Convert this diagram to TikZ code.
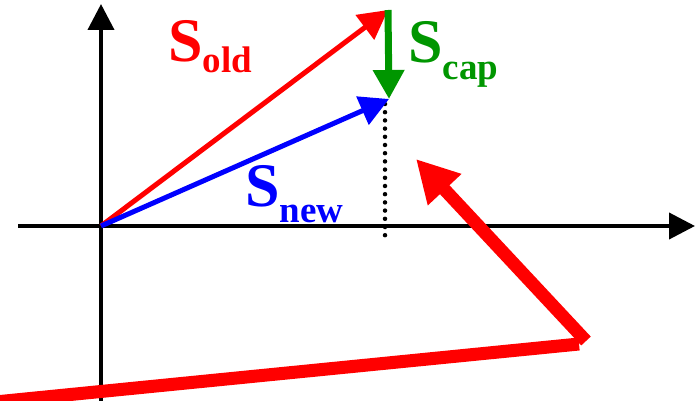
\documentclass[tikz,border=0pt]{standalone}
\usepackage{fontspec}
\setmainfont{Liberation Serif}
\usetikzlibrary{arrows.meta}
\definecolor{myred}{RGB}{255,0,0}
\definecolor{myblue}{RGB}{0,0,255}
\definecolor{mygreen}{RGB}{0,150,0}
\newcommand{\bigS}{{\fontsize{62}{62}\selectfont\bfseries S}}
\newcommand{\subtxt}[2]{\raisebox{-#1pt}{\fontsize{37}{37}\selectfont\bfseries #2}}
\begin{document}
\begin{tikzpicture}[x=1pt,y=-1pt,
  axis/.style={line width=4pt,black,-{Triangle[length=26pt,width=26pt]}},
  vec/.style={line width=5pt,-{Triangle[length=29pt,width=30pt]}},
  bigvec/.style={line width=13pt,myred},
  lbl/.style={inner sep=0pt,anchor=base west}]
\useasboundingbox (0,0) rectangle (699,401);
\coordinate (O) at (101,226);
\coordinate (xs) at (18,226);
\coordinate (xe) at (695,226);
\coordinate (ys) at (101,405);
\coordinate (ye) at (101,4);
\coordinate (A) at (388,10);
\coordinate (B) at (389,99);
\coordinate (D1) at (385,104);
\coordinate (D2) at (385,238);
\coordinate (P0) at (-5,402);
\coordinate (P1) at (579,344);
\coordinate (P2) at (586,341);
\coordinate (P3) at (416,159);
% axes
\draw[axis] (xs) -- (xe);
\draw[axis] (ys) -- (ye);
% dotted
\draw[line width=4.5pt,line cap=round,dash pattern=on 0pt off 8.2pt] (D1) -- (D2);
% vectors
\draw[vec,myred] (O) -- (A);
\draw[vec,myblue] (O) -- (B);
\draw[vec,mygreen,line width=7pt] (A) -- (B);
% thick red
\draw[bigvec] (P0) -- (P1);
\draw[bigvec,-{Triangle[length=42pt,width=43pt]}] (P2) -- (P3);
% labels
\node[lbl,text=myred] (sold) at (168,62) {\bigS\subtxt{11}{old}};
\node[lbl,text=mygreen] (scap) at (408,63) {\bigS\subtxt{17}{cap}};
\node[lbl,text=myblue] (snew) at (245,207) {\bigS\subtxt{16}{new}};
\end{tikzpicture}
\end{document}
